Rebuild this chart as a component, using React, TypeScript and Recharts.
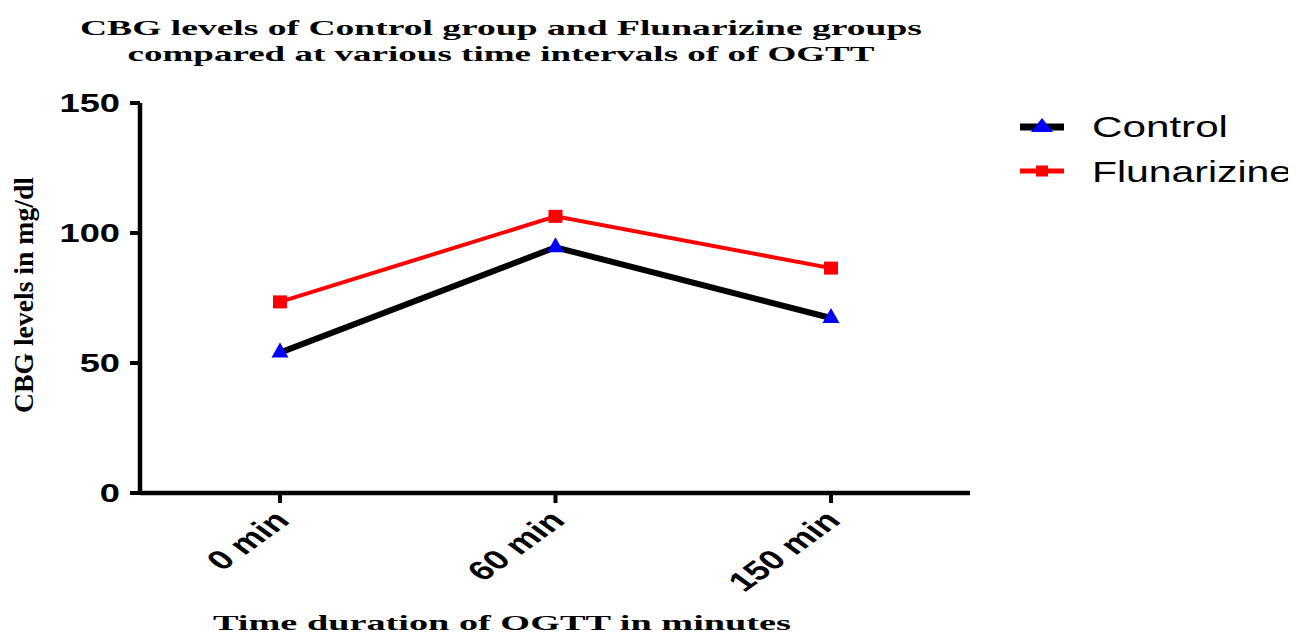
import { LineChart, Line, XAxis, YAxis, Legend } from "recharts";

const times = ["0 min", "60 min", "150 min"];
const control = [54, 94.5, 67.3];
const flunarizine = [73.5, 106.4, 86.5];
const yTicks = [0, 50, 100, 150];

const data = times.map((t, i) => ({
  time: t,
  control: control[i],
  flunarizine: flunarizine[i],
}));

const SANS = "'Liberation Sans', Arial, sans-serif";
const SERIF = "'Liberation Serif', 'Times New Roman', serif";
const STRETCH = 1.38;

const TriangleDot = (props: any) => {
  const { cx, cy } = props;
  if (cx == null || cy == null) return null;
  return (
    <polygon
      points={`${cx},${cy - 10} ${cx + 8.5},${cy + 5} ${cx - 8.5},${cy + 5}`}
      fill="#0000ff"
    />
  );
};

const SquareDot = (props: any) => {
  const { cx, cy } = props;
  if (cx == null || cy == null) return null;
  return <rect x={cx - 7} y={cy - 6.5} width={14} height={13} fill="#ff0000" />;
};

const XTick = (props: any) => {
  const { x, y, payload } = props;
  return (
    <g transform={`translate(${x + 11},${y + 17}) scale(${STRETCH},1) rotate(-45)`}>
      <text
        textAnchor="end"
        fontFamily={SANS}
        fontWeight="bold"
        fontSize={27}
        fill="#000"
      >
        {payload.value}
      </text>
    </g>
  );
};

const YTick = (props: any) => {
  const { x, y, payload } = props;
  return (
    <g transform={`translate(${x},${y + 9}) scale(1.45,1)`}>
      <text
        textAnchor="end"
        fontFamily={SANS}
        fontWeight="bold"
        fontSize={25}
        fill="#000"
      >
        {payload.value}
      </text>
    </g>
  );
};

const LegendBox = () => (
  <svg width={280} height={95}>
    <line x1={12} y1={24} x2={56} y2={24} stroke="#000" strokeWidth={7} />
    <polygon points="34,15 45,29 23,29" fill="#0000ff" />
    <text
      x={84}
      y={34}
      fontFamily={SANS}
      fontSize={30}
      textLength={136}
      lengthAdjust="spacingAndGlyphs"
      fill="#000"
    >
      Control
    </text>
    <line x1={12} y1={68} x2={56} y2={68} stroke="#ff0000" strokeWidth={5} />
    <rect x={28} y={62.5} width={12} height={11} fill="#ff0000" />
    <text
      x={84}
      y={79}
      fontFamily={SANS}
      fontSize={30}
      textLength={200}
      lengthAdjust="spacingAndGlyphs"
      fill="#000"
    >
      Flunarizine
    </text>
  </svg>
);

export default function App() {
  return (
    <LineChart
      width={1280}
      height={627}
      data={data}
      margin={{ top: 95, right: 318, left: 0, bottom: 0 }}
    >
      <text
        x={493}
        y={27}
        textAnchor="middle"
        fontFamily={SERIF}
        fontWeight="bold"
        fontSize={22}
        textLength={842}
        lengthAdjust="spacingAndGlyphs"
      >
        CBG levels of Control group and Flunarizine groups
      </text>
      <text
        x={493}
        y={53}
        textAnchor="middle"
        fontFamily={SERIF}
        fontWeight="bold"
        fontSize={22}
        textLength={747}
        lengthAdjust="spacingAndGlyphs"
      >
        compared at various time intervals of of OGTT
      </text>
      <text
        x={494}
        y={622}
        textAnchor="middle"
        fontFamily={SERIF}
        fontWeight="bold"
        fontSize={22}
        textLength={578}
        lengthAdjust="spacingAndGlyphs"
      >
        Time duration of OGTT in minutes
      </text>
      <g transform={`translate(25,287) scale(${STRETCH},1) rotate(-90)`}>
        <text
          x={0}
          y={0}
          textAnchor="middle"
          fontFamily={SERIF}
          fontWeight="bold"
          fontSize={20}
          textLength={236}
          lengthAdjust="spacingAndGlyphs"
        >
          CBG levels in mg/dl
        </text>
      </g>
      <XAxis
        dataKey="time"
        height={142}
        padding={{ left: 140, right: 139 }}
        axisLine={{ stroke: "#000", strokeWidth: 4.5 }}
        tickLine={{ stroke: "#000", strokeWidth: 4 }}
        tickSize={10}
        tick={<XTick />}
        interval={0}
      />
      <YAxis
        width={132}
        domain={[0, 150]}
        ticks={yTicks}
        axisLine={{ stroke: "#000", strokeWidth: 4.5 }}
        tickLine={{ stroke: "#000", strokeWidth: 4 }}
        tickSize={10}
        tickMargin={10}
        tick={<YTick />}
      />
      <Legend
        verticalAlign="middle"
        align="center"
        layout="horizontal"
        content={<LegendBox />}
        wrapperStyle={{ left: 1000, top: 95, width: 280, height: 95 }}
      />
      <Line
        dataKey="control"
        name="Control"
        stroke="#000"
        strokeWidth={6}
        dot={<TriangleDot />}
        activeDot={false}
        isAnimationActive={false}
      />
      <Line
        dataKey="flunarizine"
        name="Flunarizine"
        stroke="#ff0000"
        strokeWidth={4}
        dot={<SquareDot />}
        activeDot={false}
        isAnimationActive={false}
      />
    </LineChart>
  );
}
